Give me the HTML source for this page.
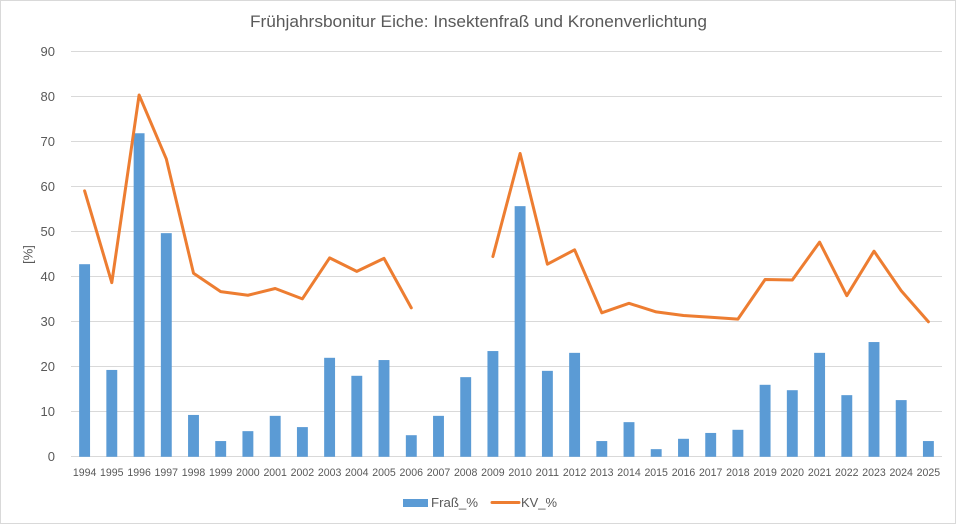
<!DOCTYPE html>
<html><head><meta charset="utf-8"><style>
html,body{margin:0;padding:0;background:#fff;}
svg{display:block;}
text{font-family:"Liberation Sans",sans-serif;fill:#595959;}
</style></head><body>
<svg width="956" height="524" viewBox="0 0 956 524" xmlns="http://www.w3.org/2000/svg">
<rect x="0.5" y="0.5" width="955" height="523" fill="#fff" stroke="#d9d9d9" stroke-width="1"/>
<text x="250" y="27" font-size="17" textLength="457" lengthAdjust="spacingAndGlyphs">Frühjahrsbonitur Eiche: Insektenfraß und Kronenverlichtung</text>
<g stroke="#d9d9d9" stroke-width="1">
<line x1="71" x2="942" y1="51.5" y2="51.5"/>
<line x1="71" x2="942" y1="96.5" y2="96.5"/>
<line x1="71" x2="942" y1="141.5" y2="141.5"/>
<line x1="71" x2="942" y1="186.5" y2="186.5"/>
<line x1="71" x2="942" y1="231.5" y2="231.5"/>
<line x1="71" x2="942" y1="276.5" y2="276.5"/>
<line x1="71" x2="942" y1="321.5" y2="321.5"/>
<line x1="71" x2="942" y1="366.5" y2="366.5"/>
<line x1="71" x2="942" y1="411.5" y2="411.5"/>
<line x1="71" x2="942" y1="456.5" y2="456.5"/>
</g>
<g font-size="13" text-anchor="end">
<text x="55" y="56">90</text>
<text x="55" y="101">80</text>
<text x="55" y="146">70</text>
<text x="55" y="191">60</text>
<text x="55" y="236">50</text>
<text x="55" y="281">40</text>
<text x="55" y="326">30</text>
<text x="55" y="371">20</text>
<text x="55" y="416">10</text>
<text x="55" y="461">0</text>
</g>
<text x="0" y="0" font-size="13" text-anchor="middle" transform="translate(32.5,254.5) rotate(-90)">[%]</text>
<g fill="#5b9bd5">
<rect x="79.15" y="264.2" width="10.9" height="192.6"/>
<rect x="106.35" y="369.95" width="10.9" height="86.85"/>
<rect x="133.65" y="133.25" width="10.9" height="323.55"/>
<rect x="160.85" y="233.15" width="10.9" height="223.65"/>
<rect x="188.05" y="414.95" width="10.9" height="41.85"/>
<rect x="215.25" y="441.05" width="10.9" height="15.75"/>
<rect x="242.45" y="431.15" width="10.9" height="25.65"/>
<rect x="269.75" y="415.85" width="10.9" height="40.95"/>
<rect x="296.95" y="427.1" width="10.9" height="29.7"/>
<rect x="324.15" y="357.8" width="10.9" height="99"/>
<rect x="351.35" y="375.8" width="10.9" height="81"/>
<rect x="378.55" y="360.05" width="10.9" height="96.75"/>
<rect x="405.85" y="435.2" width="10.9" height="21.6"/>
<rect x="433.05" y="415.85" width="10.9" height="40.95"/>
<rect x="460.25" y="377.15" width="10.9" height="79.65"/>
<rect x="487.45" y="351.05" width="10.9" height="105.75"/>
<rect x="514.65" y="206.15" width="10.9" height="250.65"/>
<rect x="541.95" y="370.85" width="10.9" height="85.95"/>
<rect x="569.15" y="352.85" width="10.9" height="103.95"/>
<rect x="596.35" y="441.05" width="10.9" height="15.75"/>
<rect x="623.55" y="422.15" width="10.9" height="34.65"/>
<rect x="650.75" y="449.15" width="10.9" height="7.65"/>
<rect x="678.05" y="438.8" width="10.9" height="18"/>
<rect x="705.25" y="432.95" width="10.9" height="23.85"/>
<rect x="732.45" y="429.8" width="10.9" height="27"/>
<rect x="759.65" y="384.8" width="10.9" height="72"/>
<rect x="786.85" y="390.2" width="10.9" height="66.6"/>
<rect x="814.15" y="352.85" width="10.9" height="103.95"/>
<rect x="841.35" y="395.15" width="10.9" height="61.65"/>
<rect x="868.55" y="342.05" width="10.9" height="114.75"/>
<rect x="895.75" y="400.1" width="10.9" height="56.7"/>
<rect x="922.95" y="441.05" width="10.9" height="15.75"/>
</g>
<g fill="none" stroke="#ed7d31" stroke-width="3" stroke-linejoin="round" stroke-linecap="round">
<polyline points="84.6,190.85 111.8,282.65 139.1,95 166.3,158.9 193.5,273.2 220.7,291.65 247.9,295.25 275.2,288.5 302.4,298.85 329.6,257.9 356.8,271.4 384,258.35 411.3,307.85"/>
<polyline points="492.9,256.55 520.1,153.5 547.4,264.2 574.6,249.8 601.8,312.8 629,303.35 656.2,311.9 683.5,315.5 710.7,317.3 737.9,319.1 765.1,279.5 792.3,279.95 819.6,242.15 846.8,295.7 874,251.15 901.2,290.75 928.4,321.8"/>
</g>
<g font-size="11" text-anchor="middle">
<text x="84.6" y="476" textLength="23.5" lengthAdjust="spacingAndGlyphs">1994</text>
<text x="111.8" y="476" textLength="23.5" lengthAdjust="spacingAndGlyphs">1995</text>
<text x="139.1" y="476" textLength="23.5" lengthAdjust="spacingAndGlyphs">1996</text>
<text x="166.3" y="476" textLength="23.5" lengthAdjust="spacingAndGlyphs">1997</text>
<text x="193.5" y="476" textLength="23.5" lengthAdjust="spacingAndGlyphs">1998</text>
<text x="220.7" y="476" textLength="23.5" lengthAdjust="spacingAndGlyphs">1999</text>
<text x="247.9" y="476" textLength="23.5" lengthAdjust="spacingAndGlyphs">2000</text>
<text x="275.2" y="476" textLength="23.5" lengthAdjust="spacingAndGlyphs">2001</text>
<text x="302.4" y="476" textLength="23.5" lengthAdjust="spacingAndGlyphs">2002</text>
<text x="329.6" y="476" textLength="23.5" lengthAdjust="spacingAndGlyphs">2003</text>
<text x="356.8" y="476" textLength="23.5" lengthAdjust="spacingAndGlyphs">2004</text>
<text x="384" y="476" textLength="23.5" lengthAdjust="spacingAndGlyphs">2005</text>
<text x="411.3" y="476" textLength="23.5" lengthAdjust="spacingAndGlyphs">2006</text>
<text x="438.5" y="476" textLength="23.5" lengthAdjust="spacingAndGlyphs">2007</text>
<text x="465.7" y="476" textLength="23.5" lengthAdjust="spacingAndGlyphs">2008</text>
<text x="492.9" y="476" textLength="23.5" lengthAdjust="spacingAndGlyphs">2009</text>
<text x="520.1" y="476" textLength="23.5" lengthAdjust="spacingAndGlyphs">2010</text>
<text x="547.4" y="476" textLength="23.5" lengthAdjust="spacingAndGlyphs">2011</text>
<text x="574.6" y="476" textLength="23.5" lengthAdjust="spacingAndGlyphs">2012</text>
<text x="601.8" y="476" textLength="23.5" lengthAdjust="spacingAndGlyphs">2013</text>
<text x="629" y="476" textLength="23.5" lengthAdjust="spacingAndGlyphs">2014</text>
<text x="656.2" y="476" textLength="23.5" lengthAdjust="spacingAndGlyphs">2015</text>
<text x="683.5" y="476" textLength="23.5" lengthAdjust="spacingAndGlyphs">2016</text>
<text x="710.7" y="476" textLength="23.5" lengthAdjust="spacingAndGlyphs">2017</text>
<text x="737.9" y="476" textLength="23.5" lengthAdjust="spacingAndGlyphs">2018</text>
<text x="765.1" y="476" textLength="23.5" lengthAdjust="spacingAndGlyphs">2019</text>
<text x="792.3" y="476" textLength="23.5" lengthAdjust="spacingAndGlyphs">2020</text>
<text x="819.6" y="476" textLength="23.5" lengthAdjust="spacingAndGlyphs">2021</text>
<text x="846.8" y="476" textLength="23.5" lengthAdjust="spacingAndGlyphs">2022</text>
<text x="874" y="476" textLength="23.5" lengthAdjust="spacingAndGlyphs">2023</text>
<text x="901.2" y="476" textLength="23.5" lengthAdjust="spacingAndGlyphs">2024</text>
<text x="928.4" y="476" textLength="23.5" lengthAdjust="spacingAndGlyphs">2025</text>
</g>
<rect x="403" y="499" width="25" height="8" fill="#5b9bd5"/>
<text x="431" y="507" font-size="13" textLength="47" lengthAdjust="spacingAndGlyphs">Fraß_%</text>
<line x1="492" x2="519" y1="502.5" y2="502.5" stroke="#ed7d31" stroke-width="3" stroke-linecap="round"/>
<text x="521" y="507" font-size="13" textLength="36" lengthAdjust="spacingAndGlyphs">KV_%</text>
</svg>
</body></html>
